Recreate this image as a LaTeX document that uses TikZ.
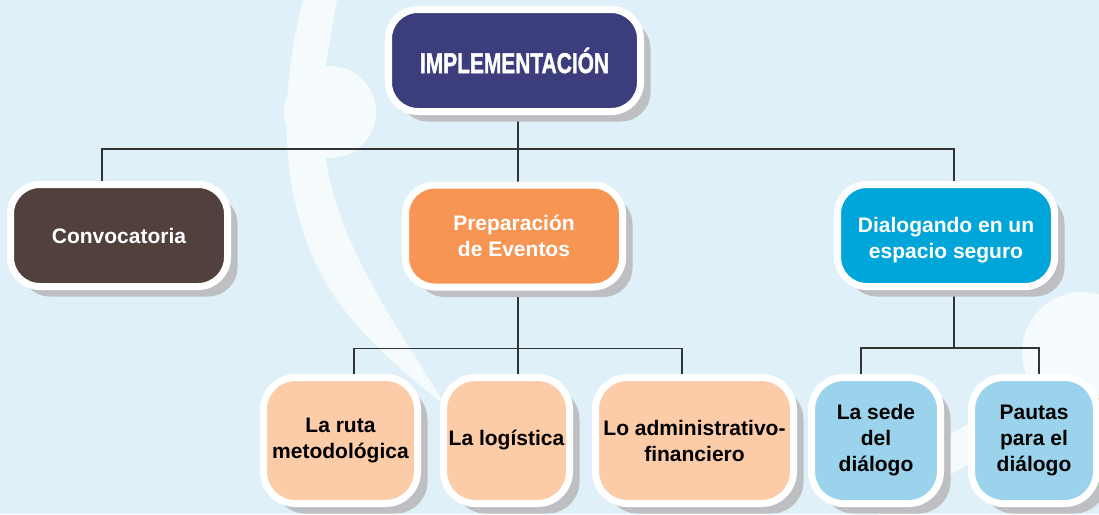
\documentclass[tikz,border=0pt]{standalone}
\usepackage{fontspec}
\usepackage{graphicx}
\setmainfont{Liberation Sans}
\newfontface\heavyface{Liberation Sans Bold}[FakeBold=1.6]
\usetikzlibrary{shadows,backgrounds}
\definecolor{bgblue}{RGB}{223,240,249}
\definecolor{bgwhite}{RGB}{245,250,253}
\definecolor{shadowgray}{RGB}{190,191,194}
\definecolor{implc}{RGB}{60,61,125}
\definecolor{convc}{RGB}{82,64,61}
\definecolor{prepc}{RGB}{247,149,85}
\definecolor{dialc}{RGB}{0,166,218}
\definecolor{lorange}{RGB}{252,203,167}
\definecolor{lblue}{RGB}{155,211,237}
\definecolor{linegray}{RGB}{51,51,51}
\begin{document}
\begin{tikzpicture}[x=0.75pt,y=-0.75pt,
  box/.style={rectangle, rounded corners=22pt, draw=white, line width=5.25pt,
    inner sep=0pt, align=center,
    font=\bfseries\fontsize{15.75}{19.5}\selectfont,
    drop shadow={shadow xshift=7.5pt, shadow yshift=-7.5pt, fill=shadowgray, opacity=1}},
  topbox/.style={box, minimum width=162.75pt, minimum height=76.5pt, text=white},
  lowbox/.style={box, rounded corners=24pt, minimum height=94.5pt, text=black},
  conn/.style={draw=linegray, line width=0.8pt}]
\useasboundingbox (0,0) rectangle (1099,514);

% nodes
\node[topbox, fill=implc, minimum width=189pt,
  font=\heavyface\fontsize{21.5}{25}\selectfont] (impl) at (514.5,60.5)
  {\scalebox{0.73}[1]{IMPLEMENTACIÓN}};
\node[topbox, fill=convc] (conv) at (119,235.5) {Convocatoria};
\node[topbox, fill=prepc] (prep) at (514,236) {Preparación\\de Eventos};
\node[topbox, fill=dialc] (dial) at (946,235.5) {\rule{0pt}{19pt}Dialogando en un\\espacio seguro};

\node[lowbox, fill=lorange, minimum width=115.5pt] (ruta) at (340.5,440.5) {La ruta\\metodológica};
\node[lowbox, fill=lorange, minimum width=94.5pt] (logi) at (506.5,440.5) {La logística};
\node[lowbox, fill=lorange, minimum width=148.5pt] (admin) at (694.5,440.5) {Lo administrativo-\\financiero};
\node[lowbox, fill=lblue, minimum width=96.75pt] (sede) at (876,440.5) {La sede\\del\\diálogo};
\node[lowbox, fill=lblue, minimum width=93.75pt] (pautas) at (1034,440.5) {Pautas\\para el\\diálogo};

\begin{scope}[on background layer]
  \fill[bgblue] (0,0) rectangle (1099,514);
  \begin{scope}
    \clip (0,0) rectangle (1099,514);
    \fill[bgwhite] (303,0) .. controls (280,90) and (275,200) .. (330,290)
      .. controls (360,335) and (400,370) .. (445,405)
      .. controls (400,330) and (340,250) .. (326,160)
      -- (326,64) -- (337,0) -- cycle;
    \fill[bgwhite] (330,112) circle (34.5pt);
    \fill[bgwhite] (1082,352) circle (45pt);
    \fill[bgwhite] (1025,390) -- (1075,405) -- (860,525) -- (840,500) -- cycle;
  \end{scope}
  % connectors
  \draw[conn] ([xshift=2.6pt]impl.south) -- ++(0,34) coordinate (bus1);
  \draw[conn] ([xshift=-12.75pt]conv.north) |- (bus1) -| ([xshift=6pt]dial.north);
  \draw[conn] (bus1) -| ([xshift=3pt]prep.north);
  \draw[conn] ([xshift=3pt]prep.south) -- ++(0,58) coordinate (bus2);
  \draw[conn] ([xshift=10.1pt]ruta.north) |- (bus2) -| ([xshift=-9.4pt]admin.north);
  \draw[conn] (bus2) -| ([xshift=8.6pt]logi.north);
  \draw[conn] ([xshift=6pt]dial.south) -- ++(0,58) coordinate (bus3);
  \draw[conn] ([xshift=-11.25pt]sede.north) |- (bus3) -| ([xshift=3.75pt]pautas.north);
\end{scope}
\end{tikzpicture}
\end{document}
